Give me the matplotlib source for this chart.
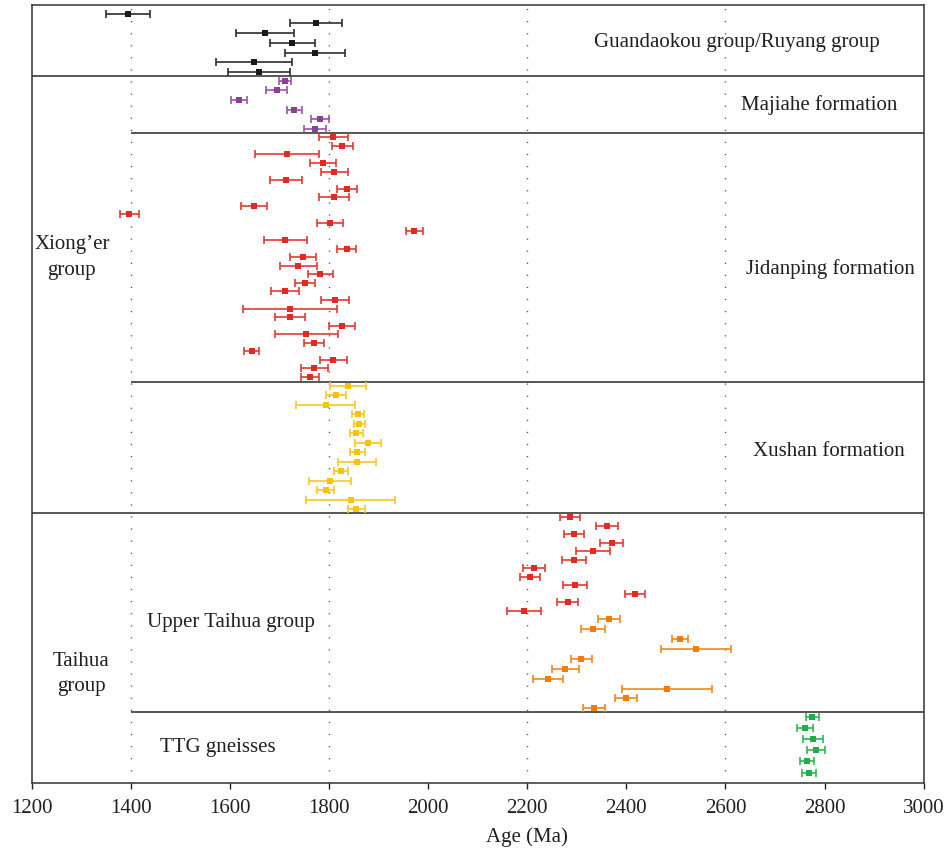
import numpy as np
import matplotlib
matplotlib.use("Agg")
import matplotlib.pyplot as plt

plt.rcParams['font.family'] = ['Liberation Serif', 'DejaVu Serif']

# ---------------- data (ages in Ma, +/- 2 sigma errors) ----------------
guandaokou_age = [1394, 1774, 1671, 1726, 1772, 1649, 1659]
guandaokou_err = [44, 53, 59, 46, 61, 77, 63]

majiahe_age = [1712, 1694, 1618, 1730, 1781, 1771]
majiahe_err = [12, 22, 16, 15, 18, 22]

jidanping_age = [1809, 1827, 1715, 1788, 1811, 1713, 1837, 1810, 1649, 1397,
                 1802, 1972, 1712, 1836, 1747, 1738, 1782, 1752, 1711, 1812,
                 1721, 1721, 1826, 1754, 1769, 1644, 1809, 1770, 1761]
jidanping_err = [30, 21, 64, 26, 27, 32, 20, 30, 26, 19,
                 26, 17, 44, 19, 26, 37, 25, 20, 29, 28,
                 95, 30, 27, 64, 20, 15, 28, 27, 18]

xushan_age = [1838, 1814, 1793, 1858, 1861, 1855, 1878, 1857, 1857, 1825,
              1802, 1793, 1844, 1855]
xushan_err = [36, 21, 59, 12, 11, 13, 26, 15, 38, 14, 43, 17, 90, 17]

upper_taihua_red_age = [2286, 2361, 2295, 2370, 2332, 2294, 2214, 2206, 2296,
                        2417, 2282, 2194]
upper_taihua_red_err = [20, 23, 20, 23, 34, 24, 22, 20, 24, 20, 21, 34]

upper_taihua_orange_age = [2365, 2332, 2508, 2540, 2309, 2277, 2242, 2482,
                           2400, 2334]
upper_taihua_orange_err = [22, 24, 16, 71, 21, 27, 30, 91, 22, 22]

ttg_age = [2775, 2761, 2776, 2783, 2764, 2769]
ttg_err = [13, 16, 20, 18, 14, 14]

x_ticks = [1200, 1400, 1600, 1800, 2000, 2200, 2400, 2600, 2800, 3000]
grid_x = [1400, 1800, 2200, 2600]

# ---------------- layout ----------------
fig = plt.figure(figsize=(9.46, 8.48), dpi=100)
ax = fig.add_axes([0.03351, 0.07630, 0.94292, 0.91780])
ax.set_xlim(1200, 3000)
ax.set_ylim(783.3, 5)   # vertical layout units (top -> bottom)

series = [
    (guandaokou_age, guandaokou_err, 13.7, 72.0, '#1a1a1a', '#2e2e2e'),
    (majiahe_age, majiahe_err, 80.7, 128.7, '#8b3f98', '#9a55a8'),
    (jidanping_age, jidanping_err, 137.3, 377.0, '#e02a22', '#e43a32'),
    (xushan_age, xushan_err, 385.7, 509.3, '#f9c400', '#f9c820'),
    (upper_taihua_red_age, upper_taihua_red_err, 517.3, 611.0, '#e02a22', '#e43a32'),
    (upper_taihua_orange_age, upper_taihua_orange_err, 619.3, 708.3, '#f07c0c', '#f2861c'),
    (ttg_age, ttg_err, 716.7, 772.7, '#1faf4a', '#30b655'),
]

for x in grid_x:
    ax.axvline(x, color='#555555', lw=1.0, ls=(0, (0.9, 7.8)), zorder=0)

for age, err, y0, y1, mcol, ecol in series:
    ys = np.linspace(y0, y1, len(age))
    ax.errorbar(age, ys, xerr=err, fmt='none', ecolor=ecol,
                elinewidth=1.2, capsize=3.0, capthick=1.2, zorder=3)
    ax.plot(age, ys, 's', ms=4.9, color=mcol, mew=0, zorder=4, linestyle='none')

# section separators
sep_col = '#3a3a3a'
for y in [76.0, 512.7]:
    ax.axhline(y, color=sep_col, lw=1.2, zorder=2)
for y in [132.7, 381.7, 712.3]:
    ax.plot([1400, 3000], [y, y], color=sep_col, lw=1.2, zorder=2, solid_capstyle='butt')

# labels
fs = 15
tc = '#231f20'
ax.text(2623, 42, 'Guandaokou group/Ruyang group', ha='center', va='center', fontsize=fs, color=tc)
ax.text(2789, 105, 'Majiahe formation', ha='center', va='center', fontsize=fs, color=tc)
ax.text(2811, 269, 'Jidanping formation', ha='center', va='center', fontsize=fs, color=tc)
ax.text(2809, 452, 'Xushan formation', ha='center', va='center', fontsize=fs, color=tc)
ax.text(1281, 257, 'Xiong\u2019er\ngroup', ha='center', va='center', fontsize=fs,
        linespacing=1.5, color=tc)
ax.text(1300, 674, 'Taihua\ngroup', ha='center', va='center', fontsize=fs,
        linespacing=1.4, color=tc)
ax.text(1603, 623, 'Upper Taihua group', ha='center', va='center', fontsize=fs, color=tc)
ax.text(1576, 748, 'TTG gneisses', ha='center', va='center', fontsize=fs, color=tc)

# axes styling
ax.set_xticks(x_ticks)
ax.set_xticklabels([str(t) for t in x_ticks])
ax.set_yticks([])
ax.tick_params(axis='x', direction='out', length=4.5, width=1.0, labelsize=fs,
               pad=7, colors=tc)
for sp in ax.spines.values():
    sp.set_linewidth(1.1)
    sp.set_color('#333333')
ax.set_xlabel('Age (Ma)', fontsize=fs, color=tc)
ax.xaxis.set_label_coords(0.555, -0.069)
ax.xaxis.label.set_va('center')

fig.savefig('out.png', dpi=100)
